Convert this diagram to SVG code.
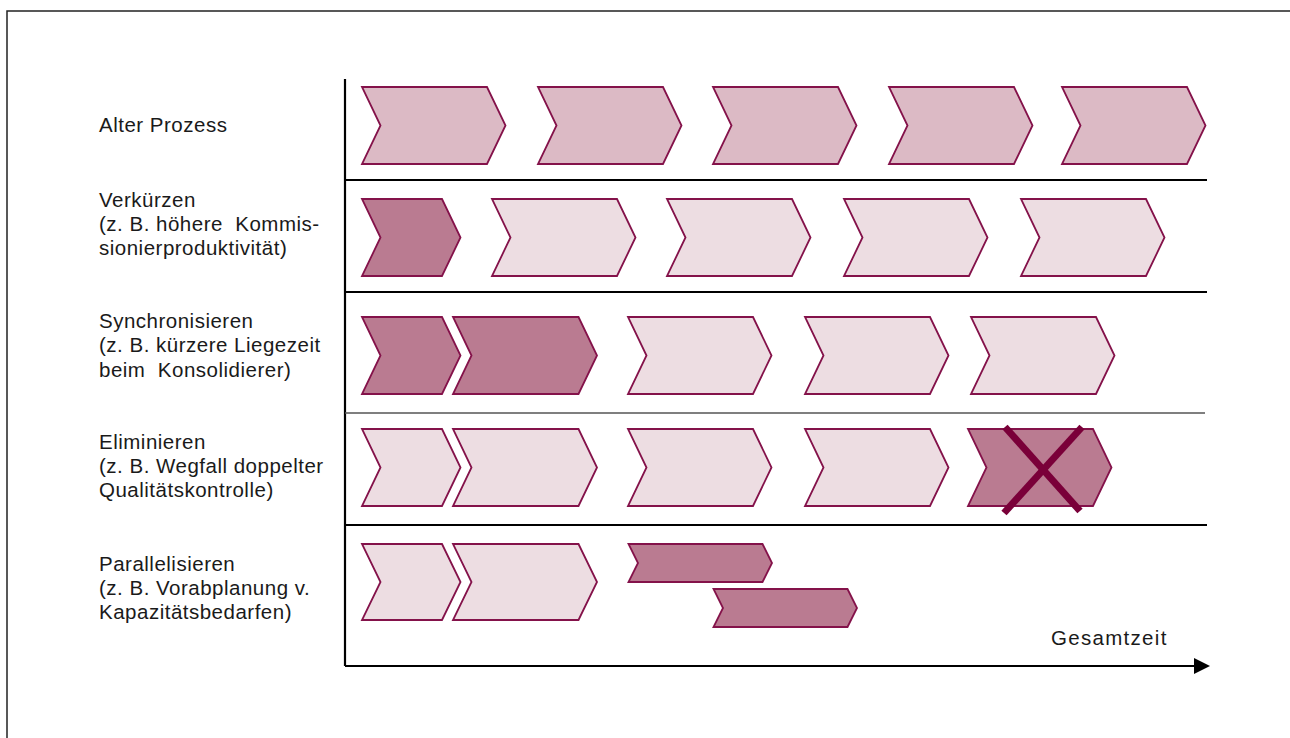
<svg xmlns="http://www.w3.org/2000/svg" width="1290" height="738" viewBox="0 0 1290 738">
<style>
.lbl{font-family:"Liberation Sans",Arial,sans-serif;font-size:20.5px;letter-spacing:0.5px;fill:#1a1a1a;white-space:pre}
.c{stroke:#84124a;stroke-width:1.8;stroke-linejoin:miter}
.old{fill:#dcbac5}
.lt{fill:#eddde2}
.dk{fill:#ba7b91}
.ax{stroke:#000;stroke-width:2.2;fill:none}
</style>
<defs>
<marker id="arr" viewBox="0 0 16 16" refX="0" refY="8" markerWidth="16" markerHeight="16" markerUnits="userSpaceOnUse" orient="auto">
<path d="M0,0 L16,8 L0,16 Z" fill="#000"/>
</marker>
</defs>
<rect width="1290" height="738" fill="#fff"/>
<g id="frame">
<path d="M7,738 L7,11 L1290,11" fill="none" stroke="#222" stroke-width="1.5"/>
</g>
<g id="connectors">
<line class="ax" x1="345" y1="79" x2="345" y2="666"/>
<line class="ax" x1="345" y1="666" x2="1194" y2="666" marker-end="url(#arr)"/>
<line class="ax" x1="345" y1="180" x2="1207" y2="180"/>
<line class="ax" x1="345" y1="292" x2="1207" y2="292"/>
<line x1="345" y1="413" x2="1205" y2="413" stroke="#555" stroke-width="1.6"/>
<line class="ax" x1="345" y1="525" x2="1207" y2="525"/>
</g>
<g id="labels">
<text class="lbl" x="99" y="132">Alter Prozess</text>
<text class="lbl" x="99" y="207">Verkürzen</text>
<text class="lbl" x="99" y="231">(z. B. höhere  Kommis-</text>
<text class="lbl" x="99" y="255">sionierproduktivität)</text>
<text class="lbl" x="99" y="328">Synchronisieren</text>
<text class="lbl" x="99" y="352">(z. B. kürzere Liegezeit</text>
<text class="lbl" x="99" y="377">beim  Konsolidierer)</text>
<text class="lbl" x="99" y="449">Eliminieren</text>
<text class="lbl" x="99" y="473">(z. B. Wegfall doppelter</text>
<text class="lbl" x="99" y="497">Qualitätskontrolle)</text>
<text class="lbl" x="99" y="571">Parallelisieren</text>
<text class="lbl" x="99" y="595">(z. B. Vorabplanung v.</text>
<text class="lbl" x="99" y="619">Kapazitätsbedarfen)</text>
<text class="lbl" x="1051" y="645" style="letter-spacing:1.3px">Gesamtzeit</text>
</g>
<g id="row1">
<path class="c old" d="M362,87 L487,87 L505.5,125.5 L487,164 L362,164 L380.5,125.5 Z"/>
<path class="c old" d="M538,87 L663,87 L681.5,125.5 L663,164 L538,164 L556.5,125.5 Z"/>
<path class="c old" d="M713,87 L838,87 L856.5,125.5 L838,164 L713,164 L731.5,125.5 Z"/>
<path class="c old" d="M889,87 L1014,87 L1032.5,125.5 L1014,164 L889,164 L907.5,125.5 Z"/>
<path class="c old" d="M1062,87 L1187,87 L1205.5,125.5 L1187,164 L1062,164 L1080.5,125.5 Z"/>
</g>
<g id="row2">
<path class="c dk" d="M362,199 L442,199 L460.5,237.5 L442,276 L362,276 L380.5,237.5 Z"/>
<path class="c lt" d="M492,199 L617,199 L635.5,237.5 L617,276 L492,276 L510.5,237.5 Z"/>
<path class="c lt" d="M667,199 L792,199 L810.5,237.5 L792,276 L667,276 L685.5,237.5 Z"/>
<path class="c lt" d="M844,199 L969,199 L987.5,237.5 L969,276 L844,276 L862.5,237.5 Z"/>
<path class="c lt" d="M1021,199 L1146,199 L1164.5,237.5 L1146,276 L1021,276 L1039.5,237.5 Z"/>
</g>
<g id="row3">
<path class="c dk" d="M362,317 L442,317 L460.5,355.5 L442,394 L362,394 L380.5,355.5 Z"/>
<path class="c dk" d="M453,317 L578.5,317 L597,355.5 L578.5,394 L453,394 L471.5,355.5 Z"/>
<path class="c lt" d="M628,317 L753,317 L771.5,355.5 L753,394 L628,394 L646.5,355.5 Z"/>
<path class="c lt" d="M805,317 L930,317 L948.5,355.5 L930,394 L805,394 L823.5,355.5 Z"/>
<path class="c lt" d="M971,317 L1096,317 L1114.5,355.5 L1096,394 L971,394 L989.5,355.5 Z"/>
</g>
<g id="row4">
<path class="c lt" d="M362,429 L442,429 L460.5,467.5 L442,506 L362,506 L380.5,467.5 Z"/>
<path class="c lt" d="M453,429 L578.5,429 L597,467.5 L578.5,506 L453,506 L471.5,467.5 Z"/>
<path class="c lt" d="M628,429 L753,429 L771.5,467.5 L753,506 L628,506 L646.5,467.5 Z"/>
<path class="c lt" d="M805,429 L930,429 L948.5,467.5 L930,506 L805,506 L823.5,467.5 Z"/>
<path class="c dk" d="M968,429 L1093,429 L1111.5,467.5 L1093,506 L968,506 L986.5,467.5 Z"/>
<g id="cross">
<line x1="1005" y1="427" x2="1080" y2="511" stroke="#7a0039" stroke-width="7"/>
<line x1="1082" y1="427" x2="1004" y2="513" stroke="#7a0039" stroke-width="7"/>
</g>
</g>
<g id="row5">
<path class="c lt" d="M362,544 L442,544 L460.5,582 L442,620 L362,620 L380.5,582 Z"/>
<path class="c lt" d="M453,544 L578.5,544 L597,582 L578.5,620 L453,620 L471.5,582 Z"/>
<path class="c dk" d="M628.5,544 L762.5,544 L772,563 L762.5,582 L628.5,582 L638,563 Z"/>
<path class="c dk" d="M713.5,589 L847.5,589 L857,608 L847.5,627 L713.5,627 L723,608 Z"/>
</g>
</svg>
